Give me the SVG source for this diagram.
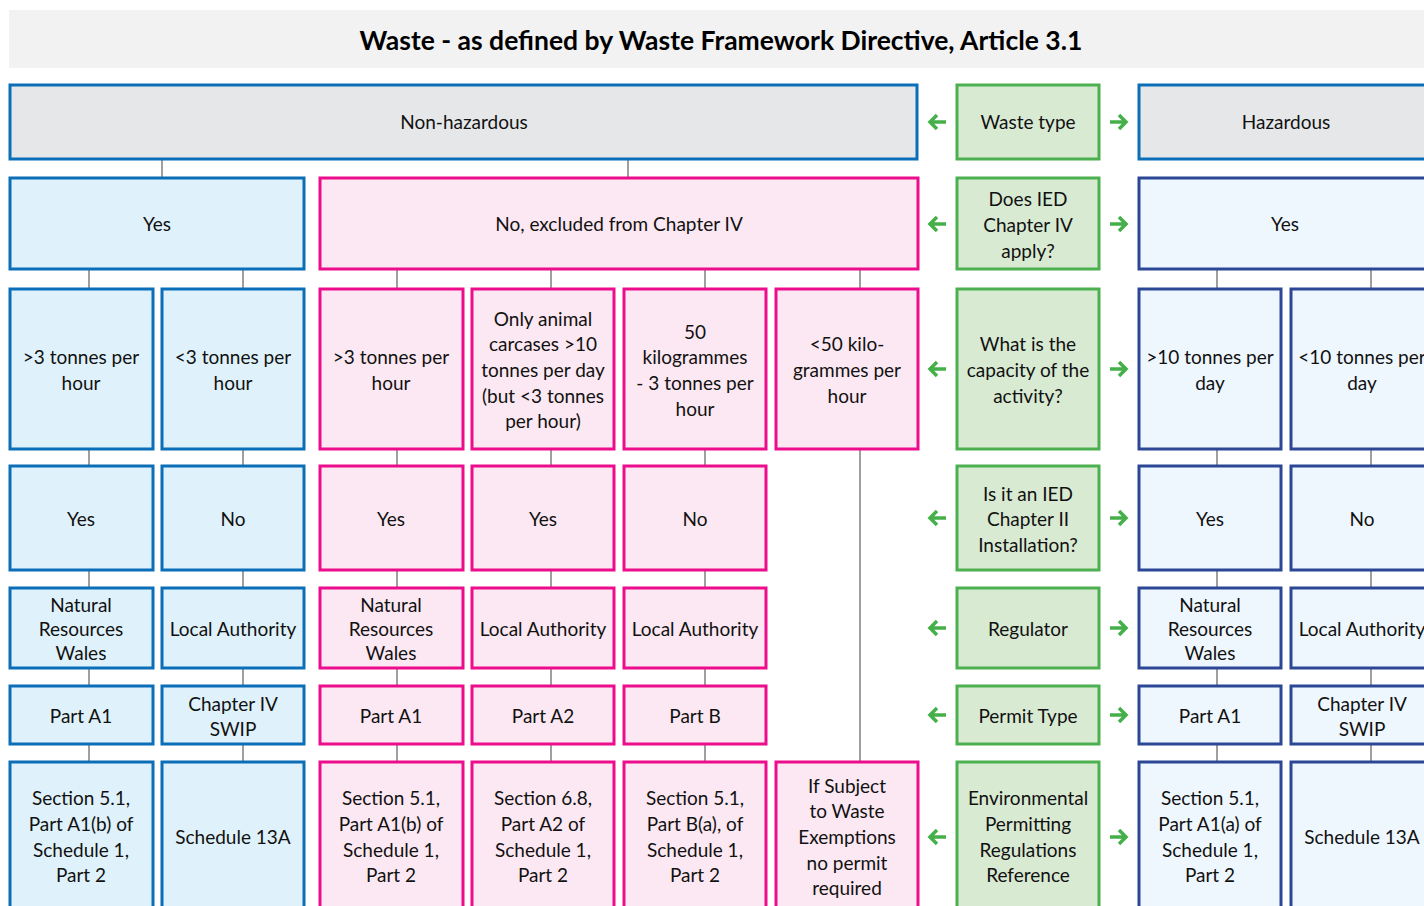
<svg xmlns="http://www.w3.org/2000/svg" width="1424" height="906" viewBox="0 0 1424 906">
<style>
text{font-family:Lato,"Open Sans","Liberation Sans",sans-serif;font-size:19px;fill:#111;text-anchor:middle}
.title{font-size:26.5px;font-weight:bold;fill:#000}
.grey{fill:#e6e7e8;stroke:#0a6fb8;stroke-width:3}
.lb{fill:#dff1fb;stroke:#0a6fb8;stroke-width:3}
.pk{fill:#fce8f2;stroke:#ec0c8c;stroke-width:3}
.gr{fill:#d9ead3;stroke:#4cb050;stroke-width:3}
.nv{fill:#eff7fe;stroke:#2b4796;stroke-width:3}
.con line{stroke:#7f7f7f;stroke-width:1.5}
.arr path{fill:none;stroke:#45b04a;stroke-width:3.5;stroke-linecap:butt;stroke-linejoin:miter}
</style>
<rect x="9" y="10" width="1420" height="58" fill="#f2f2f2"/>
<text class="title" x="721" y="50">Waste - as defined by Waste Framework Directive, Article 3.1</text>

<g id="connectors" class="con">
<line x1="162" y1="160" x2="162" y2="177"/>
<line x1="628" y1="160" x2="628" y2="177"/>
<line x1="89" y1="270" x2="89" y2="288"/>
<line x1="243" y1="270" x2="243" y2="288"/>
<line x1="397" y1="270" x2="397" y2="288"/>
<line x1="551" y1="270" x2="551" y2="288"/>
<line x1="705" y1="270" x2="705" y2="288"/>
<line x1="860" y1="270" x2="860" y2="288"/>
<line x1="1217" y1="270" x2="1217" y2="288"/>
<line x1="1371" y1="270" x2="1371" y2="288"/>
<line x1="89" y1="450" x2="89" y2="465"/>
<line x1="243" y1="450" x2="243" y2="465"/>
<line x1="397" y1="450" x2="397" y2="465"/>
<line x1="551" y1="450" x2="551" y2="465"/>
<line x1="705" y1="450" x2="705" y2="465"/>
<line x1="1217" y1="450" x2="1217" y2="465"/>
<line x1="1371" y1="450" x2="1371" y2="465"/>
<line x1="89" y1="571" x2="89" y2="587"/>
<line x1="243" y1="571" x2="243" y2="587"/>
<line x1="397" y1="571" x2="397" y2="587"/>
<line x1="551" y1="571" x2="551" y2="587"/>
<line x1="705" y1="571" x2="705" y2="587"/>
<line x1="1217" y1="571" x2="1217" y2="587"/>
<line x1="1371" y1="571" x2="1371" y2="587"/>
<line x1="89" y1="669" x2="89" y2="685"/>
<line x1="243" y1="669" x2="243" y2="685"/>
<line x1="397" y1="669" x2="397" y2="685"/>
<line x1="551" y1="669" x2="551" y2="685"/>
<line x1="705" y1="669" x2="705" y2="685"/>
<line x1="1217" y1="669" x2="1217" y2="685"/>
<line x1="1371" y1="669" x2="1371" y2="685"/>
<line x1="89" y1="745" x2="89" y2="761"/>
<line x1="243" y1="745" x2="243" y2="761"/>
<line x1="397" y1="745" x2="397" y2="761"/>
<line x1="551" y1="745" x2="551" y2="761"/>
<line x1="705" y1="745" x2="705" y2="761"/>
<line x1="1217" y1="745" x2="1217" y2="761"/>
<line x1="1371" y1="745" x2="1371" y2="761"/>
<line x1="860" y1="450" x2="860" y2="761"/>
</g>

<g id="arrows" class="arr">
<path d="M930,122 H946 M937,115 L930,122 L937,129"/>
<path d="M1110,122 H1126 M1119,115 L1126,122 L1119,129"/>
<path d="M930,224 H946 M937,217 L930,224 L937,231"/>
<path d="M1110,224 H1126 M1119,217 L1126,224 L1119,231"/>
<path d="M930,369 H946 M937,362 L930,369 L937,376"/>
<path d="M1110,369 H1126 M1119,362 L1126,369 L1119,376"/>
<path d="M930,518 H946 M937,511 L930,518 L937,525"/>
<path d="M1110,518 H1126 M1119,511 L1126,518 L1119,525"/>
<path d="M930,628 H946 M937,621 L930,628 L937,635"/>
<path d="M1110,628 H1126 M1119,621 L1126,628 L1119,635"/>
<path d="M930,715 H946 M937,708 L930,715 L937,722"/>
<path d="M1110,715 H1126 M1119,708 L1126,715 L1119,722"/>
<path d="M930,837 H946 M937,830 L930,837 L937,844"/>
<path d="M1110,837 H1126 M1119,830 L1126,837 L1119,844"/>
</g>

<!-- Row 1 -->
<g id="nonhaz"><rect class="grey" x="10" y="85" width="907" height="74"/><text x="464" y="129">Non-hazardous</text></g>
<g id="wastetype"><rect class="gr" x="957" y="85" width="142" height="74"/><text x="1028" y="129">Waste type</text></g>
<g id="haz"><rect class="grey" x="1139" y="85" width="300" height="74"/><text x="1286" y="129">Hazardous</text></g>

<!-- Row 2 -->
<g id="nh-yes"><rect class="lb" x="10" y="178" width="294" height="91"/><text x="157" y="231">Yes</text></g>
<g id="nh-no"><rect class="pk" x="320" y="178" width="598" height="91"/><text x="619" y="231">No, excluded from Chapter IV</text></g>
<g id="q-ied4"><rect class="gr" x="957" y="178" width="142" height="91"/><text x="1028" y="206">Does IED</text><text x="1028" y="232">Chapter IV</text><text x="1028" y="258">apply?</text></g>
<g id="h-yes"><rect class="nv" x="1139" y="178" width="300" height="91"/><text x="1285" y="231">Yes</text></g>

<!-- Row 3 -->
<g id="c1r3"><rect class="lb" x="10" y="289" width="143" height="160"/><text x="81" y="364">&gt;3 tonnes per</text><text x="81" y="390">hour</text></g>
<g id="c2r3"><rect class="lb" x="162" y="289" width="142" height="160"/><text x="233" y="364">&lt;3 tonnes per</text><text x="233" y="390">hour</text></g>
<g id="c3r3"><rect class="pk" x="320" y="289" width="143" height="160"/><text x="391" y="364">&gt;3 tonnes per</text><text x="391" y="390">hour</text></g>
<g id="c4r3"><rect class="pk" x="472" y="289" width="142" height="160"/><text x="543" y="326">Only animal</text><text x="543" y="351">carcases &gt;10</text><text x="543" y="377">tonnes per day</text><text x="543" y="403">(but &lt;3 tonnes</text><text x="543" y="428">per hour)</text></g>
<g id="c5r3"><rect class="pk" x="624" y="289" width="142" height="160"/><text x="695" y="339">50</text><text x="695" y="364">kilogrammes</text><text x="695" y="390">- 3 tonnes per</text><text x="695" y="416">hour</text></g>
<g id="c6r3"><rect class="pk" x="776" y="289" width="142" height="160"/><text x="847" y="351">&lt;50 kilo-</text><text x="847" y="377">grammes per</text><text x="847" y="403">hour</text></g>
<g id="q-cap"><rect class="gr" x="957" y="289" width="142" height="160"/><text x="1028" y="351">What is the</text><text x="1028" y="377">capacity of the</text><text x="1028" y="403">activity?</text></g>
<g id="h1r3"><rect class="nv" x="1139" y="289" width="142" height="160"/><text x="1210" y="364">&gt;10 tonnes per</text><text x="1210" y="390">day</text></g>
<g id="h2r3"><rect class="nv" x="1291" y="289" width="142" height="160"/><text x="1362" y="364">&lt;10 tonnes per</text><text x="1362" y="390">day</text></g>

<!-- Row 4 -->
<g id="c1r4"><rect class="lb" x="10" y="466" width="143" height="104"/><text x="81" y="526">Yes</text></g>
<g id="c2r4"><rect class="lb" x="162" y="466" width="142" height="104"/><text x="233" y="526">No</text></g>
<g id="c3r4"><rect class="pk" x="320" y="466" width="143" height="104"/><text x="391" y="526">Yes</text></g>
<g id="c4r4"><rect class="pk" x="472" y="466" width="142" height="104"/><text x="543" y="526">Yes</text></g>
<g id="c5r4"><rect class="pk" x="624" y="466" width="142" height="104"/><text x="695" y="526">No</text></g>
<g id="q-ied2"><rect class="gr" x="957" y="466" width="142" height="104"/><text x="1028" y="501">Is it an IED</text><text x="1028" y="526">Chapter II</text><text x="1028" y="552">Installation?</text></g>
<g id="h1r4"><rect class="nv" x="1139" y="466" width="142" height="104"/><text x="1210" y="526">Yes</text></g>
<g id="h2r4"><rect class="nv" x="1291" y="466" width="142" height="104"/><text x="1362" y="526">No</text></g>

<!-- Row 5 -->
<g id="c1r5"><rect class="lb" x="10" y="588" width="143" height="80"/><text x="81" y="612">Natural</text><text x="81" y="636">Resources</text><text x="81" y="660">Wales</text></g>
<g id="c2r5"><rect class="lb" x="162" y="588" width="142" height="80"/><text x="233" y="636">Local Authority</text></g>
<g id="c3r5"><rect class="pk" x="320" y="588" width="143" height="80"/><text x="391" y="612">Natural</text><text x="391" y="636">Resources</text><text x="391" y="660">Wales</text></g>
<g id="c4r5"><rect class="pk" x="472" y="588" width="142" height="80"/><text x="543" y="636">Local Authority</text></g>
<g id="c5r5"><rect class="pk" x="624" y="588" width="142" height="80"/><text x="695" y="636">Local Authority</text></g>
<g id="q-reg"><rect class="gr" x="957" y="588" width="142" height="80"/><text x="1028" y="636">Regulator</text></g>
<g id="h1r5"><rect class="nv" x="1139" y="588" width="142" height="80"/><text x="1210" y="612">Natural</text><text x="1210" y="636">Resources</text><text x="1210" y="660">Wales</text></g>
<g id="h2r5"><rect class="nv" x="1291" y="588" width="142" height="80"/><text x="1362" y="636">Local Authority</text></g>

<!-- Row 6 -->
<g id="c1r6"><rect class="lb" x="10" y="686" width="143" height="58"/><text x="81" y="723">Part A1</text></g>
<g id="c2r6"><rect class="lb" x="162" y="686" width="142" height="58"/><text x="233" y="711">Chapter IV</text><text x="233" y="736">SWIP</text></g>
<g id="c3r6"><rect class="pk" x="320" y="686" width="143" height="58"/><text x="391" y="723">Part A1</text></g>
<g id="c4r6"><rect class="pk" x="472" y="686" width="142" height="58"/><text x="543" y="723">Part A2</text></g>
<g id="c5r6"><rect class="pk" x="624" y="686" width="142" height="58"/><text x="695" y="723">Part B</text></g>
<g id="q-permit"><rect class="gr" x="957" y="686" width="142" height="58"/><text x="1028" y="723">Permit Type</text></g>
<g id="h1r6"><rect class="nv" x="1139" y="686" width="142" height="58"/><text x="1210" y="723">Part A1</text></g>
<g id="h2r6"><rect class="nv" x="1291" y="686" width="142" height="58"/><text x="1362" y="711">Chapter IV</text><text x="1362" y="736">SWIP</text></g>

<!-- Row 7 -->
<g id="c1r7"><rect class="lb" x="10" y="762" width="143" height="170"/><text x="81" y="805">Section 5.1,</text><text x="81" y="831">Part A1(b) of</text><text x="81" y="857">Schedule 1,</text><text x="81" y="882">Part 2</text></g>
<g id="c2r7"><rect class="lb" x="162" y="762" width="142" height="170"/><text x="233" y="844">Schedule 13A</text></g>
<g id="c3r7"><rect class="pk" x="320" y="762" width="143" height="170"/><text x="391" y="805">Section 5.1,</text><text x="391" y="831">Part A1(b) of</text><text x="391" y="857">Schedule 1,</text><text x="391" y="882">Part 2</text></g>
<g id="c4r7"><rect class="pk" x="472" y="762" width="142" height="170"/><text x="543" y="805">Section 6.8,</text><text x="543" y="831">Part A2 of</text><text x="543" y="857">Schedule 1,</text><text x="543" y="882">Part 2</text></g>
<g id="c5r7"><rect class="pk" x="624" y="762" width="142" height="170"/><text x="695" y="805">Section 5.1,</text><text x="695" y="831">Part B(a), of</text><text x="695" y="857">Schedule 1,</text><text x="695" y="882">Part 2</text></g>
<g id="c6r7"><rect class="pk" x="776" y="762" width="142" height="170"/><text x="847" y="793">If Subject</text><text x="847" y="818">to Waste</text><text x="847" y="844">Exemptions</text><text x="847" y="870">no permit</text><text x="847" y="895">required</text></g>
<g id="q-epr"><rect class="gr" x="957" y="762" width="142" height="170"/><text x="1028" y="805">Environmental</text><text x="1028" y="831">Permitting</text><text x="1028" y="857">Regulations</text><text x="1028" y="882">Reference</text></g>
<g id="h1r7"><rect class="nv" x="1139" y="762" width="142" height="170"/><text x="1210" y="805">Section 5.1,</text><text x="1210" y="831">Part A1(a) of</text><text x="1210" y="857">Schedule 1,</text><text x="1210" y="882">Part 2</text></g>
<g id="h2r7"><rect class="nv" x="1291" y="762" width="142" height="170"/><text x="1362" y="844">Schedule 13A</text></g>
</svg>
